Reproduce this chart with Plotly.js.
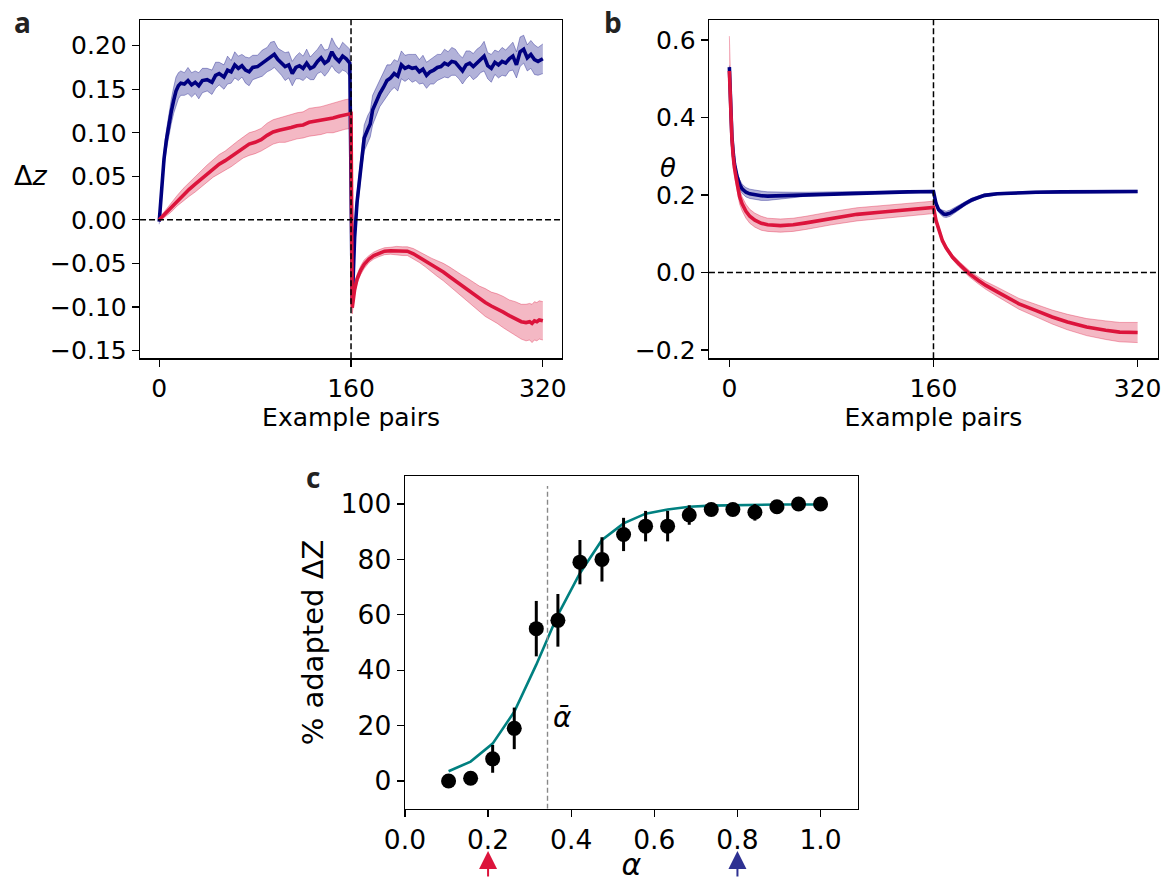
<!DOCTYPE html>
<html>
<head>
<meta charset="utf-8">
<script src="https://cdn.plot.ly/plotly-3.0.1.min.js"></script>
<style>
  html, body { margin: 0; padding: 0; background: #fff; }
  #chart { width: 1167px; height: 882px; }
</style>
</head>
<body>
<div id="chart"></div>
<script>
// ---- Panel a: Δz over example pairs (mean and half-width of band) ----
const aBlueX = [0,2,4,6,8,10,12,14,16,18,21,24,27,30,33,36,40,44,47,50,54,57,60,63,66,69,72,75,78,82,86,90,93,96,99,102,105,108,111,114,117,120,123,126,129,132,135,138,141,144,147,150,153,156,159,
  161,163,165,167,169,171,174,176,178,181,184,187,190,193,196,199,202,205,208,211,214,217,220,223,226,229,232,235,238,241,244,247,250,253,256,259,262,265,268,271,274,277,280,283,286,289,292,295,298,301,304,307,310,313,316,320];
const aBlueY = [-0.002,0.04,0.07,0.092,0.11,0.124,0.137,0.148,0.154,0.157,0.156,0.160,0.155,0.158,0.154,0.160,0.161,0.158,0.166,0.168,0.164,0.172,0.170,0.178,0.174,0.177,0.172,0.170,0.175,0.176,0.180,0.184,0.188,0.190,0.184,0.180,0.176,0.178,0.168,0.175,0.177,0.174,0.180,0.174,0.176,0.182,0.186,0.180,0.183,0.193,0.186,0.182,0.188,0.185,0.180,
  -0.095,-0.02,0.02,0.045,0.075,0.094,0.104,0.110,0.126,0.136,0.145,0.152,0.160,0.163,0.168,0.165,0.178,0.174,0.176,0.174,0.175,0.170,0.173,0.166,0.170,0.172,0.175,0.176,0.180,0.178,0.182,0.181,0.176,0.171,0.178,0.180,0.176,0.180,0.184,0.188,0.177,0.174,0.181,0.178,0.182,0.180,0.185,0.188,0.178,0.193,0.196,0.186,0.190,0.184,0.182,0.185];
const aBlueErr = [0.003,0.006,0.009,0.011,0.013,0.014,0.015,0.016,0.015,0.014,0.013,0.015,0.014,0.013,0.015,0.014,0.013,0.014,0.015,0.013,0.014,0.016,0.013,0.015,0.014,0.013,0.015,0.016,0.014,0.013,0.015,0.014,0.016,0.015,0.013,0.014,0.016,0.015,0.014,0.013,0.015,0.014,0.016,0.013,0.015,0.014,0.016,0.015,0.013,0.016,0.015,0.014,0.016,0.015,0.016,
  0.004,0.008,0.010,0.012,0.014,0.015,0.016,0.015,0.017,0.016,0.015,0.016,0.018,0.015,0.016,0.017,0.016,0.015,0.014,0.016,0.015,0.014,0.016,0.015,0.014,0.016,0.015,0.014,0.016,0.015,0.016,0.015,0.014,0.015,0.016,0.014,0.015,0.016,0.015,0.017,0.015,0.016,0.014,0.015,0.016,0.015,0.014,0.016,0.015,0.017,0.016,0.015,0.016,0.017,0.016,0.017];

const aRedX = [0,5,10,15,20,25,30,35,40,45,50,55,60,65,70,75,80,85,90,95,100,105,110,115,120,125,130,135,140,145,150,155,160,
  161,163,165,168,171,175,179,183,188,193,198,203,207,212,217,222,227,232,237,242,247,252,257,262,267,272,277,282,287,292,297,302,306,309,311,313,315,317,320];
const aRedY = [0,0.007,0.014,0.022,0.029,0.035,0.041,0.047,0.053,0.059,0.064,0.068,0.073,0.078,0.083,0.087,0.089,0.092,0.097,0.101,0.103,0.104,0.106,0.108,0.109,0.112,0.113,0.114,0.116,0.117,0.119,0.121,0.122,
  -0.101,-0.08,-0.068,-0.058,-0.051,-0.045,-0.041,-0.0385,-0.036,-0.0355,-0.0355,-0.036,-0.036,-0.039,-0.043,-0.047,-0.052,-0.056,-0.060,-0.065,-0.070,-0.075,-0.080,-0.086,-0.091,-0.095,-0.099,-0.102,-0.106,-0.110,-0.113,-0.117,-0.118,-0.117,-0.119,-0.116,-0.117,-0.115,-0.116];
const aRedErr = [0.002,0.004,0.005,0.006,0.007,0.008,0.009,0.009,0.010,0.010,0.011,0.011,0.012,0.012,0.012,0.013,0.013,0.013,0.014,0.014,0.014,0.015,0.015,0.015,0.015,0.016,0.016,0.016,0.016,0.017,0.017,0.017,0.017,
  0.007,0.006,0.005,0.005,0.005,0.004,0.004,0.004,0.004,0.004,0.005,0.005,0.005,0.006,0.006,0.007,0.008,0.009,0.010,0.011,0.012,0.012,0.013,0.014,0.015,0.016,0.016,0.017,0.018,0.018,0.019,0.020,0.021,0.021,0.022,0.022,0.022,0.022,0.022];

// ---- Panel b: θ over example pairs ----
const bBlueX = [0,1,2,3,4,6,8,10,13,16,20,25,30,40,50,60,80,100,120,140,160,162,164,166,168,170,173,176,180,185,190,195,200,210,220,230,240,260,280,300,320];
const bBlueY = [0.53,0.42,0.35,0.31,0.28,0.248,0.228,0.216,0.207,0.203,0.200,0.198,0.197,0.198,0.200,0.202,0.204,0.206,0.207,0.208,0.209,0.178,0.162,0.155,0.151,0.150,0.153,0.159,0.168,0.178,0.187,0.194,0.199,0.203,0.205,0.206,0.207,0.208,0.208,0.209,0.209];
const bBlueErr = [0.004,0.006,0.008,0.009,0.010,0.011,0.012,0.012,0.012,0.012,0.012,0.012,0.011,0.009,0.007,0.005,0.004,0.003,0.003,0.003,0.003,0.005,0.006,0.007,0.008,0.008,0.008,0.007,0.006,0.005,0.005,0.004,0.004,0.003,0.003,0.003,0.003,0.003,0.003,0.003,0.003];

const bRedX = [0,1,2,3,4,6,8,10,13,16,20,25,30,40,50,60,80,100,120,140,160,162,165,167,170,175,180,188,195,201,210,220,227,240,253,265,280,295,306,320];
const bRedY = [0.52,0.41,0.345,0.30,0.27,0.232,0.196,0.177,0.158,0.145,0.135,0.127,0.123,0.121,0.123,0.128,0.140,0.150,0.156,0.162,0.168,0.134,0.100,0.082,0.063,0.039,0.022,-0.003,-0.020,-0.0335,-0.050,-0.068,-0.081,-0.098,-0.115,-0.128,-0.141,-0.149,-0.154,-0.155];
const bRedErr = [0.09,0.05,0.03,0.025,0.022,0.020,0.019,0.018,0.018,0.018,0.018,0.018,0.017,0.017,0.017,0.017,0.017,0.017,0.017,0.016,0.016,0.008,0.006,0.006,0.006,0.006,0.007,0.008,0.009,0.010,0.012,0.013,0.014,0.016,0.018,0.020,0.022,0.024,0.025,0.026];

const switchPoint = 160;
const pairTicks = [0, 160, 320];

// ---- Panel c: % adapted ΔZ against α ----
const alphaVals  = [0.105,0.158,0.211,0.263,0.316,0.368,0.421,0.474,0.526,0.579,0.632,0.684,0.737,0.789,0.842,0.895,0.947,1.0];
const adaptedPct = [0,1,8,19,55,58,79,80,89,92,92,96,98,98,97,99,100,100];
const adaptedErr = [0,1,5,7.5,10,9.5,8,8,6,5.5,5.5,3.5,2,1.5,3,1,0.5,0.5];
const fitPct     = [3.5,7,13.5,25,42,60,75,87,93,96.5,98,99,99.4,99.6,99.7,99.8,99.8,99.8];
const alphaBar = 0.343;
const markedAlphas = [0.2, 0.8];

const NAVY = '#000080', CRIMSON = '#DC143C', TEAL = '#008080';

function band(x, y, e, rgb, xa, ya) {
  const lo = y.map((v, i) => v - e[i]);
  const hi = y.map((v, i) => v + e[i]);
  const edge = 'rgba(' + rgb + ',0.35)';
  return [
    {x: x, y: lo, xaxis: xa, yaxis: ya, mode: 'lines', line: {color: edge, width: 1}, hoverinfo: 'skip'},
    {x: x, y: hi, xaxis: xa, yaxis: ya, mode: 'lines', line: {color: edge, width: 1},
     fill: 'tonexty', fillcolor: 'rgba(' + rgb + ',0.3)', hoverinfo: 'skip'}
  ];
}
function line(x, y, color, xa, ya) {
  return {x: x, y: y, xaxis: xa, yaxis: ya, mode: 'lines', line: {color: color, width: 3.6}};
}

const traces = [
  ...band(aBlueX, aBlueY, aBlueErr, '0,0,128', 'x', 'y'),
  ...band(aRedX, aRedY, aRedErr, '220,20,60', 'x', 'y'),
  line(aBlueX, aBlueY, NAVY, 'x', 'y'),
  line(aRedX, aRedY, CRIMSON, 'x', 'y'),
  ...band(bBlueX, bBlueY, bBlueErr, '0,0,128', 'x2', 'y2'),
  ...band(bRedX, bRedY, bRedErr, '220,20,60', 'x2', 'y2'),
  line(bBlueX, bBlueY, NAVY, 'x2', 'y2'),
  line(bRedX, bRedY, CRIMSON, 'x2', 'y2'),
  {x: alphaVals, y: fitPct, xaxis: 'x3', yaxis: 'y3', mode: 'lines', line: {color: TEAL, width: 2.6}},
  {x: alphaVals, y: adaptedPct, xaxis: 'x3', yaxis: 'y3', mode: 'markers',
   marker: {color: 'black', size: 15},
   error_y: {type: 'data', array: adaptedErr, visible: true, thickness: 3, width: 0, color: 'black'}}
];

const axisBase = {
  showline: true, mirror: true, linecolor: 'black', linewidth: 1.3,
  ticks: 'outside', ticklen: 7, tickwidth: 1.3, tickcolor: 'black',
  showgrid: false, zeroline: false,
  tickfont: {family: 'DejaVu Sans', size: 25, color: 'black'}
};
const axisC = Object.assign({}, axisBase, {tickfont: {family: 'DejaVu Sans', size: 26.5, color: 'black'}});
const titleFont = {family: 'DejaVu Sans', size: 25, color: 'black'};

const dash = '6px,3px';
const shapes = [
  {type: 'line', xref: 'x domain', yref: 'y', x0: 0, x1: 1, y0: 0, y1: 0, line: {color: 'black', width: 1.5, dash: dash}},
  {type: 'line', xref: 'x', yref: 'y domain', x0: switchPoint, x1: switchPoint, y0: 0, y1: 1, line: {color: 'black', width: 1.5, dash: dash}},
  {type: 'line', xref: 'x2 domain', yref: 'y2', x0: 0, x1: 1, y0: 0, y1: 0, line: {color: 'black', width: 1.5, dash: dash}},
  {type: 'line', xref: 'x2', yref: 'y2 domain', x0: switchPoint, x1: switchPoint, y0: 0, y1: 1, line: {color: 'black', width: 1.5, dash: dash}},
  {type: 'line', xref: 'x3', yref: 'y3', x0: alphaBar, x1: alphaBar, y0: -10, y1: 106.5, line: {color: '#888888', width: 1.4, dash: '5px,3px'}}
];

const letterFont = {family: 'Open Sans, DejaVu Sans', size: 28, color: '#222', weight: 'bold'};
const arrowColors = ['#DC143C', '#2E3192'];
const centered = {xanchor: 'center', yanchor: 'middle', showarrow: false};
const annotations = [
  Object.assign({text: '<b>a</b>', x: 0.019, y: 0.999, xref: 'paper', yref: 'paper', font: letterFont}, centered, {yanchor: 'top'}),
  Object.assign({text: '<b>b</b>', x: 0.525, y: 0.999, xref: 'paper', yref: 'paper', font: letterFont}, centered, {yanchor: 'top'}),
  Object.assign({text: '<b>c</b>', x: 0.268, y: 0.459, xref: 'paper', yref: 'paper', font: letterFont}, centered),
  Object.assign({text: 'Δ<i>z</i>', x: 0.026, y: 0.801, xref: 'paper', yref: 'paper', font: {family: 'DejaVu Sans', size: 27, color: 'black'}}, centered),
  Object.assign({text: '<i>θ</i>', x: 0.5725, y: 0.810, xref: 'paper', yref: 'paper', font: {family: 'DejaVu Sans', size: 26, color: 'black'}}, centered),
  Object.assign({text: '<i>ᾱ</i>', x: alphaBar + 0.036, y: 23, xref: 'x3', yref: 'y3', font: {family: 'DejaVu Sans', size: 28, color: 'black'}}, centered)
].concat(markedAlphas.map((a, i) => ({
  text: '', x: a, xref: 'x3', y: 1 - 851 / 882, yref: 'paper', ax: 0, ay: 27,
  showarrow: true, arrowhead: 2, arrowsize: 1.8, arrowwidth: 2, arrowcolor: arrowColors[i]
})));

const layout = {
  width: 1167, height: 882,
  margin: {l: 0, r: 0, t: 0, b: 0},
  paper_bgcolor: 'white', plot_bgcolor: 'white',
  showlegend: false,
  font: {family: 'DejaVu Sans', size: 24, color: 'black'},
  xaxis: Object.assign({}, axisBase, {domain: [0.1200, 0.4816], range: [-16, 336], tickvals: pairTicks, anchor: 'y',
    title: {text: 'Example pairs', font: titleFont, standoff: 6}}),
  yaxis: Object.assign({}, axisBase, {domain: [0.5938, 0.9773], range: [-0.159, 0.2295],
    tickvals: [-0.15, -0.10, -0.05, 0, 0.05, 0.10, 0.15, 0.20], tickformat: '.2f', anchor: 'x'}),
  xaxis2: Object.assign({}, axisBase, {domain: [0.6075, 0.9923], range: [-16, 336], tickvals: pairTicks, anchor: 'y2',
    title: {text: 'Example pairs', font: titleFont, standoff: 6}}),
  yaxis2: Object.assign({}, axisBase, {domain: [0.5938, 0.9773], range: [-0.2215, 0.6516],
    tickvals: [-0.2, 0, 0.2, 0.4, 0.6], tickformat: '.1f', anchor: 'x2'}),
  xaxis3: Object.assign({}, axisC, {domain: [0.3470, 0.7352], range: [0, 1.09],
    tickvals: [0, 0.2, 0.4, 0.6, 0.8, 1.0], tickformat: '.1f', anchor: 'y3',
    title: {text: '<i>α</i>', font: {family: 'DejaVu Sans', size: 30, color: 'black'}, standoff: 8}}),
  yaxis3: Object.assign({}, axisC, {domain: [0.0831, 0.4600], range: [-10, 110],
    tickvals: [0, 20, 40, 60, 80, 100], anchor: 'x3',
    title: {text: '% adapted ΔZ', font: {family: 'DejaVu Sans', size: 29, color: 'black'}, standoff: 8}}),
  shapes: shapes,
  annotations: annotations
};

Plotly.newPlot('chart', traces, layout, {displayModeBar: false, staticPlot: true});
</script>
</body>
</html>
